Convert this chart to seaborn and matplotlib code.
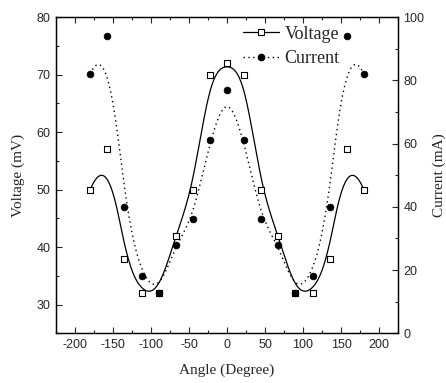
import numpy as np
import pandas as pd
import matplotlib
matplotlib.use("Agg")
import matplotlib.pyplot as plt
from matplotlib.lines import Line2D
from matplotlib.ticker import MultipleLocator
import seaborn as sns

sns.set_style("ticks")
plt.rcParams['font.family'] = ['Liberation Sans', 'DejaVu Sans']
plt.rcParams['axes.unicode_minus'] = False

# ---- data ----
angles = [-180, -157.5, -135, -112.5, -90, -67.5, -45, -22.5, 0,
          22.5, 45, 67.5, 90, 112.5, 135, 157.5, 180]
voltage = [50, 57, 38, 32, 32, 42, 50, 70, 72,
           70, 50, 42, 32, 32, 38, 57, 50]
current = [82, 94, 40, 18, 12.7, 28, 36, 61, 77,
           61, 36, 28, 12.7, 18, 40, 94, 82]
xticks = [-200, -150, -100, -50, 0, 50, 100, 150, 200]
vticks = [30, 40, 50, 60, 70, 80]
cticks = [0, 20, 40, 60, 80, 100]

df = pd.DataFrame({"angle": angles, "voltage": voltage, "current": current})


# Clamped cubic B-spline using the data points as control points
def bspline_basis(n, k=3, num=500):
    m = n - k  # number of spans
    knots = np.concatenate([np.zeros(k), np.arange(m + 1), np.full(k, m)]).astype(float)
    u = np.linspace(0, m, num)
    u[-1] = m - 1e-9
    N = np.zeros((num, len(knots) - 1))
    for i in range(len(knots) - 1):
        N[:, i] = (u >= knots[i]) & (u < knots[i + 1])
    for d in range(1, k + 1):
        Nn = np.zeros((num, len(knots) - 1 - d))
        for i in range(len(knots) - 1 - d):
            a = knots[i + d] - knots[i]
            b = knots[i + d + 1] - knots[i + 1]
            t1 = (u - knots[i]) / a * N[:, i] if a > 0 else 0
            t2 = (knots[i + d + 1] - u) / b * N[:, i + 1] if b > 0 else 0
            Nn[:, i] = t1 + t2
        N = Nn
    return N


B = bspline_basis(len(df))
fit = pd.DataFrame({"angle": B @ df["angle"].to_numpy(float),
                    "voltage": B @ df["voltage"].to_numpy(float),
                    "current": B @ df["current"].to_numpy(float)})

W, H = 446, 383
fig = plt.figure(figsize=(W / 100, H / 100), dpi=100)
ax = fig.add_axes([56 / W, 1 - 333.3 / H, 342 / W, 316.3 / H])
ax2 = ax.twinx()

sns.lineplot(data=fit, x="angle", y="voltage", ax=ax, color="black", lw=0.9,
             sort=False)
sns.scatterplot(data=df, x="angle", y="voltage", ax=ax, marker="s", s=20,
                facecolor="white", edgecolor="black", linewidth=0.8, zorder=3)
sns.lineplot(data=fit, x="angle", y="current", ax=ax2, color="black", lw=1.0,
             linestyle=(0, (1, 2.5)), sort=False)
sns.scatterplot(data=df, x="angle", y="current", ax=ax2, marker="o", s=24,
                color="black", edgecolor="black", linewidth=0.5, zorder=4)

ax.set_xlim(-225, 225)
ax.set_ylim(25, 80)
ax2.set_ylim(0, 100)
ax.set_xticks(xticks)
ax.set_yticks(vticks)
ax2.set_yticks(cticks)
ax.xaxis.set_minor_locator(MultipleLocator(25))
ax.yaxis.set_minor_locator(MultipleLocator(5))
ax2.yaxis.set_minor_locator(MultipleLocator(10))

for a in (ax, ax2):
    for s in a.spines.values():
        s.set_visible(True)
        s.set_linewidth(0.9)
        s.set_color("black")
ax.tick_params(axis="x", which="both", direction="in", top=True, bottom=True,
               labelsize=9, pad=4)
ax.tick_params(axis="y", which="both", direction="in", left=True, right=False,
               labelsize=9, pad=4)
ax2.tick_params(axis="y", which="both", direction="in", right=True, left=False,
                labelsize=9, pad=4)
for a in (ax, ax2):
    a.tick_params(which="major", length=4.5, width=0.8)
    a.tick_params(which="minor", length=2.5, width=0.8)

serif = ['Liberation Serif', 'DejaVu Serif']
ax.set_xlabel("Angle (Degree)", family=serif, fontsize=11, labelpad=9)
ax.set_ylabel("Voltage (mV)", family=serif, fontsize=11, labelpad=8)
ax2.set_ylabel("Current (mA)", family=serif, fontsize=11, labelpad=6)

handles = [
    Line2D([], [], color="black", lw=0.9, marker="s", markersize=4,
           markerfacecolor="white", markeredgecolor="black", markeredgewidth=0.8),
    Line2D([], [], color="black", lw=1.0, linestyle=(0, (1, 2.5)), marker="o",
           markersize=4.5, markerfacecolor="black"),
]
ax2.legend(handles, ["Voltage", "Current"], loc="upper left",
           bbox_to_anchor=(0.525, 0.995), frameon=False, handlelength=2.0,
           handletextpad=0.3, labelspacing=0.4, borderaxespad=0,
           prop={"family": serif, "size": 13})

fig.savefig("out.png", dpi=100)
